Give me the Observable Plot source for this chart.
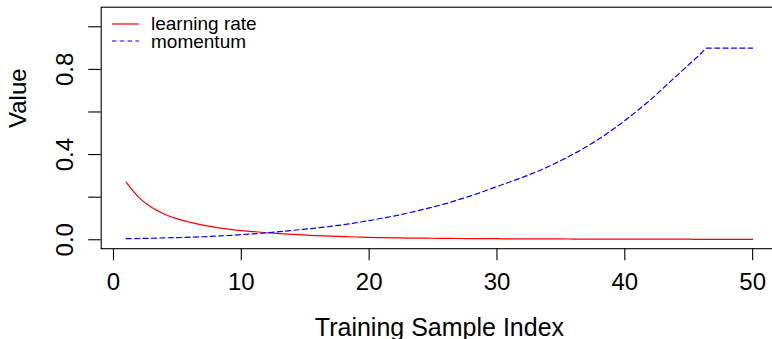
<!DOCTYPE html>
<html>
<head>
<meta charset="utf-8">
<script src="https://cdn.jsdelivr.net/npm/d3@7"></script>
<script src="https://cdn.jsdelivr.net/npm/@observablehq/plot@0.6"></script>
<style>
  html, body { margin: 0; padding: 0; background: #fff; overflow: hidden; }
  #wrap { position: relative; width: 772px; height: 339px; font-family: "Liberation Sans", Arial, sans-serif; }
  #legend { position: absolute; left: 110px; top: 15px; font-size: 19px; color: #000; }
  .row { display: flex; align-items: center; height: 17.5px; line-height: 17px; }
  .row svg { margin-right: 11px; }
</style>
</head>
<body>
<div id="wrap"></div>
<script>
// ---- data ----
const lrIndex = d3.range(1, 51);
const learningRate = [0.270, 0.198, 0.151, 0.120, 0.098, 0.082, 0.069, 0.058, 0.050, 0.043,
  0.038, 0.033, 0.029, 0.025, 0.022, 0.019, 0.017, 0.015, 0.013, 0.011,
  0.010, 0.009, 0.008, 0.0075, 0.007, 0.0065, 0.006, 0.0055, 0.005, 0.005,
  0.004, 0.004, 0.004, 0.004, 0.004, 0.003, 0.003, 0.003, 0.003, 0.003,
  0.0025, 0.0025, 0.0025, 0.0025, 0.0025, 0.002, 0.002, 0.002, 0.002, 0.002];
const momIndex = [1, 2, 3, 4, 5, 6, 7, 8, 9, 10, 11, 12, 13, 14, 15, 16, 17, 18, 19, 20,
  21, 22, 23, 24, 25, 26, 27, 28, 29, 30, 31, 32, 33, 34, 35, 36, 37, 38, 39, 40,
  41, 42, 43, 44, 45, 46, 46.4, 47, 48, 49, 50];
const momentum = [0.005, 0.006, 0.007, 0.009, 0.010, 0.012, 0.014, 0.017, 0.020, 0.024,
  0.028, 0.033, 0.038, 0.044, 0.050, 0.056, 0.063, 0.071, 0.080, 0.090,
  0.101, 0.112, 0.125, 0.139, 0.154, 0.170, 0.188, 0.207, 0.228, 0.250,
  0.271, 0.293, 0.317, 0.343, 0.372, 0.403, 0.437, 0.474, 0.515, 0.560,
  0.607, 0.657, 0.712, 0.767, 0.822, 0.877, 0.900, 0.900, 0.900, 0.900, 0.900];
const xTicks = [0, 10, 20, 30, 40, 50];
const yTicks = [0, 0.2, 0.4, 0.6, 0.8, 1.0];
const yLabels = [0, 0.4, 0.8];
const seriesNames = ["learning rate", "momentum"];
const seriesColors = ["#ff0000", "#0000ff"];

const lrData = lrIndex.map((x, i) => ({x, y: learningRate[i]}));
const momData = momIndex.map((x, i) => ({x, y: momentum[i]}));

const font = "Liberation Sans, Arial, sans-serif";
const chart = Plot.plot({
  width: 772,
  height: 339,
  marginLeft: 100.7,
  marginRight: -5.2,
  marginTop: 6.7,
  marginBottom: 90.8,
  style: {fontFamily: font, background: "#fff", color: "#000"},
  x: {domain: [-0.96, 51.96], label: null},
  y: {domain: [-0.042, 1.092], label: null},
  marks: [
    Plot.frame({stroke: "#000", strokeWidth: 1.1}),
    Plot.axisX({ticks: xTicks, tickSize: 12, tickPadding: 12.5, fontSize: 24, tickFormat: d => String(d), strokeWidth: 1.1, label: null}),
    Plot.axisY({ticks: yTicks, tickSize: 12.5, tickFormat: () => "", strokeWidth: 1.1, label: null}),
    Plot.text(yLabels, {y: d => d, text: d => d.toFixed(1), frameAnchor: "left", dx: -35.7, rotate: -90, fontSize: 24, textAnchor: "middle", lineAnchor: "middle", fill: "#000"}),
    Plot.text(["Value"], {frameAnchor: "left", dx: -82.4, rotate: -90, fontSize: 24, fill: "#000"}),
    Plot.text(["Training Sample Index"], {frameAnchor: "bottom", dy: 87.5, fontSize: 25, fill: "#000"}),
    Plot.line(lrData, {x: "x", y: "y", stroke: seriesColors[0], strokeWidth: 1.2, curve: "monotone-x"}),
    Plot.line(momData, {x: "x", y: "y", stroke: seriesColors[1], strokeWidth: 1.2, strokeDasharray: "5,3.4", curve: "monotone-x"})
  ]
});
const wrap = document.getElementById("wrap");
wrap.appendChild(chart);

const legend = document.createElement("div");
legend.id = "legend";
seriesNames.forEach((name, i) => {
  const row = document.createElement("div");
  row.className = "row";
  row.innerHTML = `<svg width="30" height="4"><line x1="2" x2="29" y1="2" y2="2" stroke="${seriesColors[i]}" stroke-width="1.2" ${i === 1 ? 'stroke-dasharray="4.5,3.3"' : ''}/></svg><span>${name}</span>`;
  legend.appendChild(row);
});
wrap.appendChild(legend);
</script>
</body>
</html>
